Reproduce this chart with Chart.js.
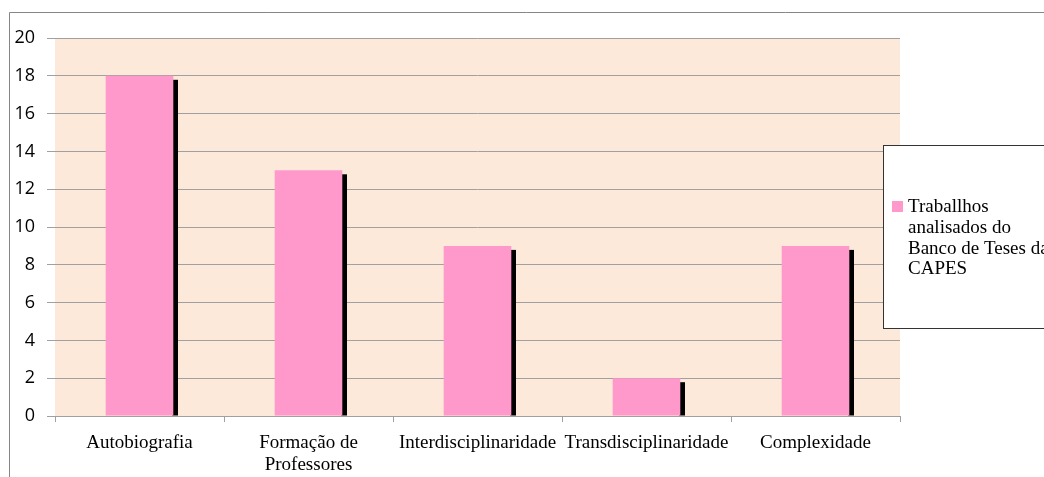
<!DOCTYPE html>
<html>
<head>
<meta charset="utf-8">
<script src="https://cdn.jsdelivr.net/npm/chart.js@4"></script>
<style>
  html, body { margin: 0; padding: 0; background: #ffffff; }
  canvas { display: block; }
</style>
</head>
<body>
<canvas id="chart" width="1044" height="477"></canvas>
<script>
// Categories along the x axis (multi-line labels are arrays)
const categories = [
  'Autobiografia',
  ['Formação de', 'Professores'],
  'Interdisciplinaridade',
  'Transdisciplinaridade',
  'Complexidade'
];
// Series name, as wrapped in the legend box
const seriesLines = ['Traballhos', 'analisados do', 'Banco de Teses da', 'CAPES'];
const seriesName = seriesLines.join(' ');
// Number of works per category
const values = [18, 13, 9, 2, 9];
// Value axis range and step
const yMin = 0;
const yMax = 20;
const yStep = 2;

const PINK = '#FF99CC';
const GRID = '#A0A0A0';

// Outer frame lines and peach plot background
const framePlugin = {
  id: 'frame',
  beforeDraw(chart) {
    const { ctx, chartArea: a } = chart;
    ctx.save();
    ctx.fillStyle = '#FDE9D9';
    ctx.fillRect(a.left, a.top, a.right - a.left, a.bottom - a.top);
    ctx.strokeStyle = '#868686';
    ctx.lineWidth = 1;
    ctx.beginPath();
    ctx.moveTo(9.5, chart.height);
    ctx.lineTo(9.5, 12.5);
    ctx.lineTo(chart.width, 12.5);
    ctx.stroke();
    ctx.restore();
  }
};

// Black drop shadow offset to the lower right of each bar
const shadowPlugin = {
  id: 'barShadow',
  beforeDatasetsDraw(chart) {
    const { ctx } = chart;
    const meta = chart.getDatasetMeta(0);
    ctx.save();
    ctx.fillStyle = '#000000';
    meta.data.forEach(bar => {
      const { x, y, base, width } = bar.getProps(['x', 'y', 'base', 'width'], true);
      ctx.fillRect(Math.round(x + width / 2) - 1, y + 4, 6, base - y - 4);
    });
    ctx.restore();
  }
};

// Legend box on the right, partly overlapping the plot
const legendPlugin = {
  id: 'legendBox',
  afterDraw(chart) {
    const { ctx, chartArea: a } = chart;
    const left = a.right - 16.5;
    const top = 145.5;
    ctx.save();
    ctx.fillStyle = '#ffffff';
    ctx.fillRect(left, top, 200, 183);
    ctx.strokeStyle = '#333333';
    ctx.lineWidth = 1;
    ctx.strokeRect(left, top, 200, 183);
    ctx.fillStyle = PINK;
    ctx.fillRect(left + 8.5, 201, 11, 11);
    ctx.fillStyle = '#000000';
    ctx.font = '19px "Liberation Serif", "Times New Roman", serif';
    ctx.textBaseline = 'alphabetic';
    ctx.textAlign = 'left';
    seriesLines.forEach((line, i) => {
      ctx.fillText(line, left + 24.5, 212 + i * 20.8);
    });
    ctx.restore();
  }
};

new Chart(document.getElementById('chart'), {
  type: 'bar',
  data: {
    labels: categories,
    datasets: [{
      label: seriesName,
      data: values,
      backgroundColor: PINK,
      borderWidth: 0,
      barPercentage: 0.4,
      categoryPercentage: 1.0
    }]
  },
  options: {
    responsive: false,
    animation: false,
    layout: { padding: { top: 38, right: 144, bottom: 0, left: 0 } },
    plugins: {
      legend: { display: false },
      tooltip: { enabled: false }
    },
    scales: {
      x: {
        afterFit(scale) { scale.height = 61; },
        grid: {
          offset: true,
          drawOnChartArea: false,
          drawTicks: true,
          tickLength: 6,
          color: GRID
        },
        border: { display: true, color: GRID, width: 1 },
        ticks: {
          color: '#000000',
          font: { family: '"Liberation Serif", "Times New Roman", serif', size: 19, lineHeight: 1.16 },
          maxRotation: 0,
          minRotation: 0,
          autoSkip: false,
          padding: 10
        }
      },
      y: {
        min: yMin,
        max: yMax,
        afterFit(scale) { scale.width = 55; },
        grid: {
          color: GRID,
          drawTicks: true,
          tickLength: 8
        },
        border: { display: false },
        ticks: {
          stepSize: yStep,
          color: '#000000',
          font: { family: '"Open Sans", sans-serif', size: 18 },
          padding: 12
        }
      }
    }
  },
  plugins: [framePlugin, shadowPlugin, legendPlugin]
});
</script>
</body>
</html>
